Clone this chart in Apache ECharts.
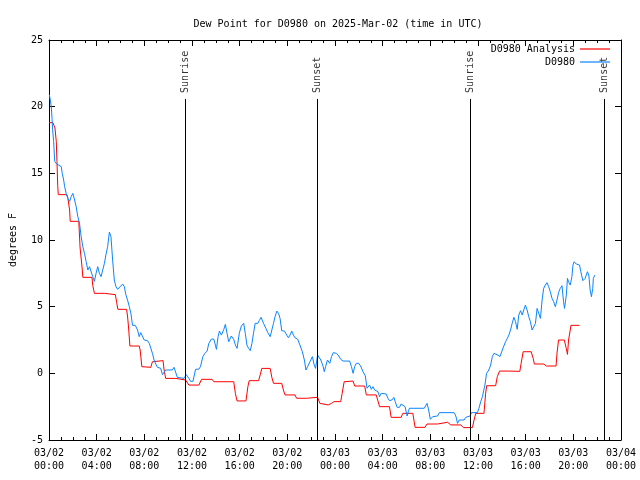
<!DOCTYPE html>
<html>
<head>
<meta charset="utf-8">
<script src="https://cdn.jsdelivr.net/npm/echarts@6/dist/echarts.min.js"></script>
<style>html,body{margin:0;padding:0;background:#fff;}#c{width:640px;height:480px;}</style>
</head>
<body>
<div id="c"></div>
<script>
// Hours since 03/02 00:00 UTC
var xTickLabels = ['03/02\n00:00','03/02\n04:00','03/02\n08:00','03/02\n12:00','03/02\n16:00','03/02\n20:00',
  '03/03\n00:00','03/03\n04:00','03/03\n08:00','03/03\n12:00','03/03\n16:00','03/03\n20:00','03/04\n00:00'];
var yTicks = [-5, 0, 5, 10, 15, 20, 25];

var sunNames = ['Sunrise', 'Sunset', 'Sunrise', 'Sunset'];
var sunHours = [11.44, 22.54, 35.39, 46.58];
var sunLineTop = 20.58;

var analysisHours = [0,0.33,0.39,0.5,0.61,0.67,0.73,0.78,1.5,1.59,1.73,1.78,2.5,2.56,2.61,2.78,2.84,3.61,3.67,3.81,
  4.65,4.78,5.57,5.68,5.78,6.51,6.59,6.68,6.79,7.57,7.65,7.79,8.54,8.68,8.82,9.57,9.66,9.79,10.63,10.77,
  11.46,11.74,12.58,12.8,13.69,13.83,15.5,15.64,15.78,16.53,16.69,16.8,17.59,17.72,17.86,18.56,18.7,18.84,19.53,19.67,
  19.81,20.64,20.78,21.62,22.54,22.73,23.43,23.71,23.93,24.48,24.6,24.77,24.82,25.52,25.65,26.49,26.63,27.46,27.74,28.57,
  28.71,29.55,29.69,30.53,30.72,31.55,31.72,32.61,32.75,33.45,33.72,34.56,34.78,35.53,35.67,35.81,36.5,36.64,36.73,37.48,
  37.62,37.81,38.59,38.67,39.51,39.62,39.79,40.46,40.63,40.73,41.51,41.74,42.55,42.63,42.76,43.24,43.41,43.51,43.6,43.74,
  43.8,44.52];
var analysisValues = [18.8,18.8,18.7,18.4,17.4,15.9,14.1,13.4,13.4,13.1,12.25,11.4,11.4,11.25,9.4,7.9,7.2,7.2,6.6,6.0,
  6.0,5.9,5.9,5.3,4.8,4.8,4.3,3.4,2.05,2.05,1.75,0.5,0.45,0.87,0.95,0.95,0.25,-0.38,-0.38,-0.45,
  -0.5,-0.88,-0.88,-0.45,-0.45,-0.63,-0.63,-1.5,-2.07,-2.07,-1.0,-0.55,-0.55,-0.12,0.37,0.37,-0.3,-0.75,-0.75,-1.25,
  -1.62,-1.62,-1.87,-1.87,-1.8,-2.25,-2.37,-2.25,-2.12,-2.12,-1.5,-0.63,-0.58,-0.58,-0.95,-0.95,-1.62,-1.62,-2.5,-2.5,
  -3.3,-3.3,-3.0,-3.0,-4.05,-4.05,-3.8,-3.8,-3.67,-3.67,-3.87,-3.87,-4.07,-4.07,-3.5,-3.0,-3.0,-1.5,-0.93,-0.93,
  -0.25,0.17,0.17,0.15,0.15,0.75,1.62,1.62,1.12,0.7,0.7,0.55,0.55,1.5,2.5,2.5,1.87,1.42,2.5,3.25,
  3.6,3.6];

var obsHours = [0.03,0.11,0.19,0.26,0.3,0.39,0.48,0.64,0.83,1.03,1.11,1.23,1.31,1.44,1.59,1.73,1.86,2.0,2.15,2.28,
  2.42,2.56,2.7,2.84,2.98,3.11,3.26,3.4,3.53,3.67,3.81,3.95,4.09,4.23,4.37,4.51,4.65,4.78,4.92,5.07,
  5.2,5.34,5.48,5.62,5.76,5.9,6.18,6.32,6.45,6.59,6.74,6.87,7.01,7.24,7.43,7.57,7.7,7.85,7.99,8.26,
  8.41,8.54,8.68,8.82,8.96,9.1,9.37,9.52,9.66,9.79,10.35,10.49,10.63,10.77,10.91,11.33,11.52,11.74,11.88,12.08,
  12.3,12.58,12.71,12.91,13.08,13.27,13.41,13.63,13.83,13.96,14.05,14.19,14.3,14.47,14.67,14.8,14.94,15.08,15.3,15.5,
  15.64,15.78,15.97,16.14,16.34,16.47,16.61,16.75,16.89,17.03,17.17,17.3,17.53,17.64,17.8,18.0,18.2,18.36,18.56,18.7,
  18.84,18.97,19.12,19.26,19.39,19.53,19.76,19.95,20.09,20.23,20.37,20.51,20.64,20.87,21.06,21.26,21.43,21.56,21.7,21.9,
  22.1,22.26,22.37,22.54,22.65,22.81,23.01,23.1,23.21,23.37,23.56,23.71,23.85,24.12,24.32,24.48,24.68,25.23,25.38,25.52,
  25.65,25.79,25.99,26.15,26.35,26.54,26.69,26.77,26.9,27.05,27.19,27.32,27.46,27.6,27.74,27.88,28.3,28.44,28.57,28.77,
  28.94,29.05,29.22,29.41,29.55,29.69,29.88,30.05,30.16,30.24,31.49,31.72,31.83,32.0,32.2,32.61,32.75,34.0,34.14,34.28,
  34.42,34.83,34.97,35.33,35.45,35.95,36.08,36.23,36.37,36.5,36.58,36.72,36.83,36.91,37.06,37.2,37.34,37.48,37.67,37.84,
  38.04,38.17,38.31,38.46,38.59,38.73,38.87,39.01,39.15,39.29,39.42,39.57,39.71,39.84,39.98,40.12,40.26,40.4,40.54,40.68,
  40.82,40.96,41.09,41.24,41.38,41.51,41.65,41.79,41.93,42.07,42.21,42.35,42.49,42.63,42.76,42.9,43.05,43.18,43.26,43.41,
  43.51,43.6,43.74,43.88,43.97,44.07,44.24,44.52,44.63,44.8,44.99,45.18,45.3,45.41,45.52,45.63,45.68,45.8];
var obsValues = [20.9,20.5,20.0,19.05,18.3,17.4,15.9,15.7,15.6,15.5,15.0,14.5,14.0,13.5,13.1,12.9,13.25,13.5,13.0,12.5,
  11.75,11.25,10.25,9.5,9.0,8.4,7.75,8.0,8.1,7.25,6.9,7.5,8.0,7.5,7.25,7.75,8.25,8.9,9.5,10.6,
  10.25,8.5,7.0,6.5,6.3,6.45,6.7,6.5,5.9,5.5,5.0,4.5,3.6,3.6,3.25,2.75,3.05,2.9,2.5,2.45,
  2.25,1.9,1.5,1.0,0.7,0.45,0.38,-0.1,0.0,0.25,0.25,0.45,0.5,-0.3,-0.38,-0.38,-0.1,-0.38,-0.6,-0.6,
  0.3,0.32,0.5,1.25,1.5,1.67,2.25,2.57,2.57,2.12,1.8,2.75,3.17,2.87,3.3,3.67,3.0,2.37,2.8,2.55,
  2.12,1.87,3.0,3.55,3.75,3.0,2.12,1.87,1.7,2.25,3.05,3.75,3.75,3.95,4.2,3.75,3.37,3.05,2.75,3.25,
  3.75,4.25,4.67,4.5,4.12,3.2,3.17,2.87,2.67,2.87,3.17,2.87,2.67,2.55,2.12,1.62,1.0,0.25,0.5,0.87,
  1.25,0.62,0.37,1.37,1.45,1.0,0.5,0.12,0.5,1.0,0.75,1.25,1.55,1.5,1.3,1.05,0.92,0.92,0.5,0.0,
  0.5,0.75,0.75,0.55,0.12,-0.18,-1.12,-1.0,-0.88,-1.2,-1.0,-1.25,-1.25,-1.37,-1.75,-1.5,-1.55,-1.87,-2.05,-2.0,
  -1.8,-2.12,-2.55,-2.55,-2.3,-2.37,-2.5,-3.2,-2.87,-2.62,-2.62,-2.25,-2.62,-3.45,-3.25,-3.2,-2.95,-2.95,-3.2,-3.75,
  -3.5,-3.5,-3.3,-3.2,-2.95,-2.95,-2.62,-2.12,-1.75,-1.62,-0.88,0.0,0.12,0.25,0.62,1.25,1.5,1.55,1.37,1.25,
  1.75,2.05,2.37,2.62,2.87,3.25,3.75,4.2,3.87,3.3,4.37,4.7,4.37,4.75,5.12,4.75,4.25,3.87,3.25,3.37,
  3.75,4.87,4.75,4.12,5.5,6.37,6.62,6.8,6.5,6.12,5.62,5.37,5.0,5.5,6.05,6.37,6.57,5.37,4.87,5.87,
  7.12,6.87,6.62,7.25,8.12,8.37,8.2,8.12,7.62,6.95,7.12,7.62,7.37,6.25,5.75,6.37,7.12,7.37];

function zip(a, b) { var r = []; for (var i = 0; i < a.length; i++) r.push([a[i], b[i]]); return r; }

var FONT = 'DejaVu Sans Mono';
var chart = echarts.init(document.getElementById('c'), null, {renderer: 'canvas'});

var sunPoints = [], sunLines = [];
for (var i = 0; i < sunHours.length; i++) {
  sunPoints.push({value: [sunHours[i], sunLineTop], name: sunNames[i]});
  sunLines.push([{coord: [sunHours[i], -5]}, {coord: [sunHours[i], sunLineTop]}]);
}

var xBase = {
  type: 'value', min: 0, max: 48, interval: 4,
  axisLine: {show: true, onZero: false, lineStyle: {color: '#000', width: 1}},
  axisTick: {show: true, inside: true, length: 6, lineStyle: {color: '#000'}},
  minorTick: {show: true, splitNumber: 4, length: 3, lineStyle: {color: '#000'}},
  splitLine: {show: false}
};
var yBase = {
  type: 'value', min: -5, max: 25, interval: 5,
  axisLine: {show: true, onZero: false, lineStyle: {color: '#000', width: 1}},
  axisTick: {show: true, inside: true, length: 6, lineStyle: {color: '#000'}},
  splitLine: {show: false}
};

chart.setOption({
  animation: false,
  backgroundColor: '#fff',
  title: {
    text: 'Dew Point for D0980 on 2025-Mar-02 (time in UTC)',
    left: 333, top: 14, textAlign: 'center',
    textStyle: {fontFamily: FONT, fontSize: 10, fontWeight: 'normal', color: '#000'}
  },
  grid: {left: 46, right: 19, top: 40, bottom: 40, containLabel: false},
  legend: [
    {data: ['D0980 Analysis'], right: 30, top: 44, orient: 'vertical', align: 'right', padding: 0,
     icon: 'rect', itemWidth: 30, itemHeight: 1.2, selectedMode: false,
     textStyle: {fontFamily: FONT, fontSize: 10, color: '#000'}},
    {data: ['D0980'], right: 30, top: 57, orient: 'vertical', align: 'right', padding: 0,
     icon: 'rect', itemWidth: 30, itemHeight: 1.2, selectedMode: false,
     textStyle: {fontFamily: FONT, fontSize: 10, color: '#000'}}
  ],
  xAxis: [
    Object.assign({}, xBase, {
      position: 'bottom',
      axisLabel: {
        show: true, margin: 7, lineHeight: 13,
        fontFamily: FONT, fontSize: 10, color: '#000',
        formatter: function (v) { return xTickLabels[Math.round(v / 4)] || ''; }
      }
    }),
    Object.assign({}, xBase, {position: 'top', axisLabel: {show: false}})
  ],
  yAxis: [
    Object.assign({}, yBase, {
      position: 'left',
      name: 'degrees F', nameLocation: 'middle', nameGap: 31, nameRotate: 90,
      nameTextStyle: {fontFamily: FONT, fontSize: 10, color: '#000'},
      axisLabel: {show: true, margin: 6, fontFamily: FONT, fontSize: 10, color: '#000',
        formatter: function (v) { return yTicks.indexOf(v) >= 0 ? String(v) : ''; }}
    }),
    Object.assign({}, yBase, {position: 'right', axisLabel: {show: false}})
  ],
  series: [
    {
      name: 'D0980 Analysis', type: 'line', data: zip(analysisHours, analysisValues),
      showSymbol: false, symbol: 'none', color: '#ff0000',
      lineStyle: {color: '#ff0000', width: 1}, z: 3
    },
    {
      name: 'D0980', type: 'line', data: zip(obsHours, obsValues),
      showSymbol: false, symbol: 'none', color: '#0a84ff',
      lineStyle: {color: '#0a84ff', width: 1}, z: 4
    },
    {
      name: 'sun', type: 'scatter', data: sunPoints, symbolSize: 0.01, silent: true,
      label: {
        show: true, formatter: '{b}', rotate: 90, position: [0, -6],
        align: 'left', verticalAlign: 'middle',
        fontFamily: FONT, fontSize: 10, color: '#000'
      },
      markLine: {
        silent: true, symbol: ['none', 'none'], animation: false,
        lineStyle: {color: '#000', width: 1, type: 'solid'},
        label: {show: false},
        data: sunLines
      },
      z: 2
    }
  ]
});
</script>
</body>
</html>
